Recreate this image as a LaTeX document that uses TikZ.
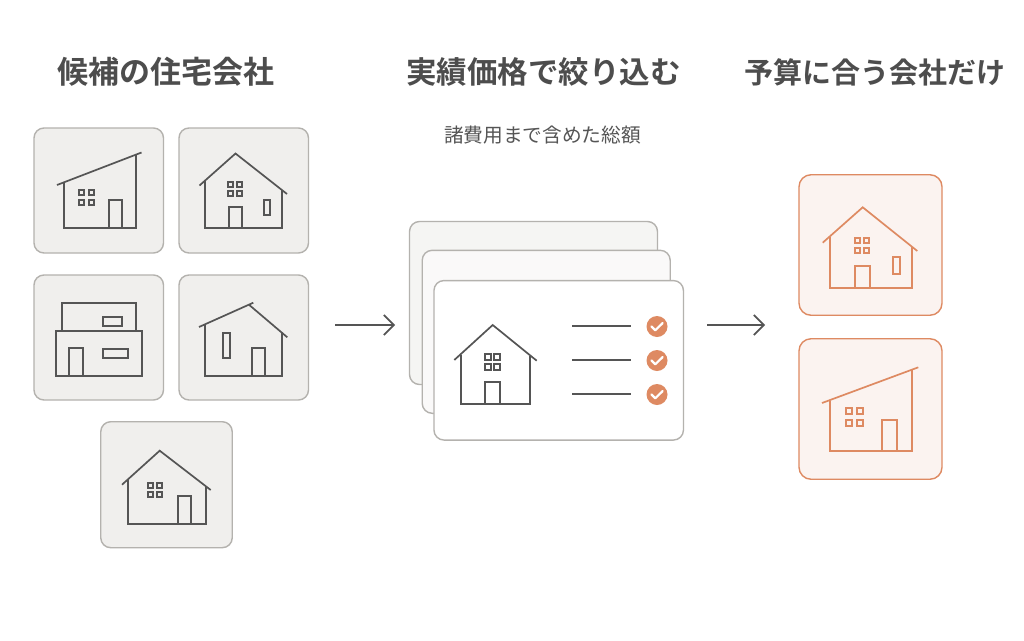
\documentclass[tikz,border=0pt]{standalone}
\usepackage{fontspec}
\setmainfont[BoldFont={Noto Sans CJK JP Bold}]{Noto Sans CJK JP}
\definecolor{inkgray}{HTML}{555555}
\definecolor{titlegray}{HTML}{4D4D4D}
\definecolor{edgegray}{HTML}{B4B2AE}
\definecolor{panelgray}{HTML}{F0EFED}
\definecolor{accent}{HTML}{DE8A62}
\definecolor{accenttint}{HTML}{FBF2EE}
\tikzset{
  title/.style={font=\bfseries\fontsize{#1}{34}\selectfont,text=titlegray},
  panel/.style={draw=edgegray,line width=1.4pt,rounded corners=10pt,inner sep=0pt},
  grayhouse/.style={panel,fill=panelgray,minimum width=129.5pt,minimum height=125pt},
  pickhouse/.style={panel,draw=accent,fill=accenttint!90,rounded corners=12pt,minimum width=143pt,minimum height=140.5pt},
  quote/.style={panel,minimum width=248pt,minimum height=163pt},
  ln/.style={line width=1.7pt,line join=miter},
  arrowline/.style={draw=inkgray,line width=1.7pt,-{Straight Barb[length=10pt,width=20pt,line width=1.7pt]}},
}
\usetikzlibrary{arrows.meta}
% four-pane window: left, top, size, column pitch, row pitch
\newcommand{\panes}[5]{
  \foreach \i in {0,1} \foreach \j in {0,1}
    \draw ({#1+\i*#4},{#2+\j*#5}) rectangle ++(#3,#3);
}
\begin{document}
\begin{tikzpicture}[x=1pt,y=-1pt]
 \useasboundingbox (0,0) rectangle (1024,640);
 \fill[white] (0,0) rectangle (1024,640);

 \node[title=31] (head1) at (166,72) {候補の住宅会社};
 \node[title=30.5] (head2) at (543.5,72) {実績価格で絞り込む};
 \node[title=29] (head3) at (875,72) {予算に合う会社だけ};
 \node[font=\fontsize{19.7}{24}\selectfont,text=inkgray] (sub2) at (542.5,135) {諸費用まで含めた総額};

 \node[grayhouse] (cand1) at (98.75,190.5) {};
 \node[grayhouse] (cand2) at (243.75,190.5) {};
 \node[grayhouse] (cand3) at (98.75,337.5) {};
 \node[grayhouse] (cand4) at (243.75,337.5) {};
 \node[grayhouse,minimum width=131.5pt,minimum height=126pt] (cand5) at (166.5,484.7) {};

 \begin{scope}[ln,draw=inkgray]
  % shed roof
  \draw (57,185) -- (141.5,152.5);
  \draw (64,182) -- (64,228) -- (136,228) -- (136,155);
  \draw (109,228) -- (109,200) -- (122,200) -- (122,228);
  \panes{79}{190}{5}{10}{10}
  % gable
  \draw (199.5,185.5) -- (235.5,153.5) -- (287,194);
  \draw (205,180) -- (205,228) -- (282,228) -- (282,190);
  \draw (229,228) -- (229,207) -- (242,207) -- (242,228);
  \panes{228}{182}{5}{9}{9}
  \draw (264,200) rectangle (270,215);
  % flat two storey
  \draw (62,331) -- (62,303) -- (136,303) -- (136,331);
  \draw (56,331) rectangle (142,376);
  \draw (103,317) rectangle (122,326);
  \draw (69,376) -- (69,348) -- (83,348) -- (83,376);
  \draw (103,349) rectangle (128,358);
  % offset gable
  \draw (199,327) -- (253.3,302.7);
  \draw (249.3,305) -- (287.3,337.3);
  \draw (205,324.3) -- (205,376) -- (282,376) -- (282,331.7);
  \draw (252,376) -- (252,348) -- (265,348) -- (265,376);
  \draw (223,333) rectangle (230,358);
  % bottom gable
  \draw (122,484.7) -- (159.7,450.7) -- (210.7,490);
  \draw (128,479) -- (128,524) -- (206,524) -- (206,486);
  \draw (178,524) -- (178,496) -- (191,496) -- (191,524);
  \panes{148}{483}{5}{9}{9}
 \end{scope}

 \coordinate (arrow1a) at (335,325); \coordinate (arrow1b) at (395,325);
 \draw[arrowline] (arrow1a) -- (arrow1b);

 \node[quote,fill=panelgray!65] (back) at (533.5,303) {};
 \node[quote,fill=panelgray!35] (mid) at (546.2,331.8) {};
 \node[quote,fill=white,minimum width=249.5pt,minimum height=159.5pt] (front) at (558.7,360.3) {};

 \begin{scope}[ln,draw=inkgray]
  \draw (454.3,360) -- (492.7,325) -- (536.7,360.7);
  \draw (461,354.5) -- (461,404) -- (530,404) -- (530,355.5);
  \draw (485,404) -- (485,382) -- (500,382) -- (500,404);
  \panes{485}{354}{6}{9}{10}
 \end{scope}
 \foreach \n/\y in {1/326,2/360,3/394} {
  \coordinate (rowa\n) at (572,\y); \coordinate (rowb\n) at (631,\y);
  \draw[ln,draw=inkgray] (rowa\n) -- (rowb\n);
  \node[circle,fill=accent,minimum size=21pt,inner sep=0pt] (ok\n) at (657,\y+0.5) {};
  \draw[white,line width=2.2pt,line cap=round,line join=round] (651.5,\y+0.5) -- (655.3,\y+4.3) -- (662.7,\y-3);
 }

 \coordinate (arrow2a) at (707,325); \coordinate (arrow2b) at (765,325);
 \draw[arrowline] (arrow2a) -- (arrow2b);

 \node[pickhouse] (pick1) at (870.5,245) {};
 \node[pickhouse] (pick2) at (870.5,409) {};

 \begin{scope}[ln,draw=accent]
  \draw (822.7,242.7) -- (862.7,207.3) -- (917.3,251);
  \draw (830,237) -- (830,288) -- (912,288) -- (912,246.5);
  \draw (855,288) -- (855,266) -- (870,266) -- (870,288);
  \panes{855}{238}{5}{9}{10}
  \draw (893,257) rectangle (900,274);
  \draw (822,403) -- (918.3,367.3);
  \draw (830,400.5) -- (830,451) -- (912,451) -- (912,369.5);
  \draw (882,451) -- (882,420) -- (897,420) -- (897,451);
  \panes{846}{408}{6}{11}{12}
 \end{scope}
\end{tikzpicture}
\end{document}
